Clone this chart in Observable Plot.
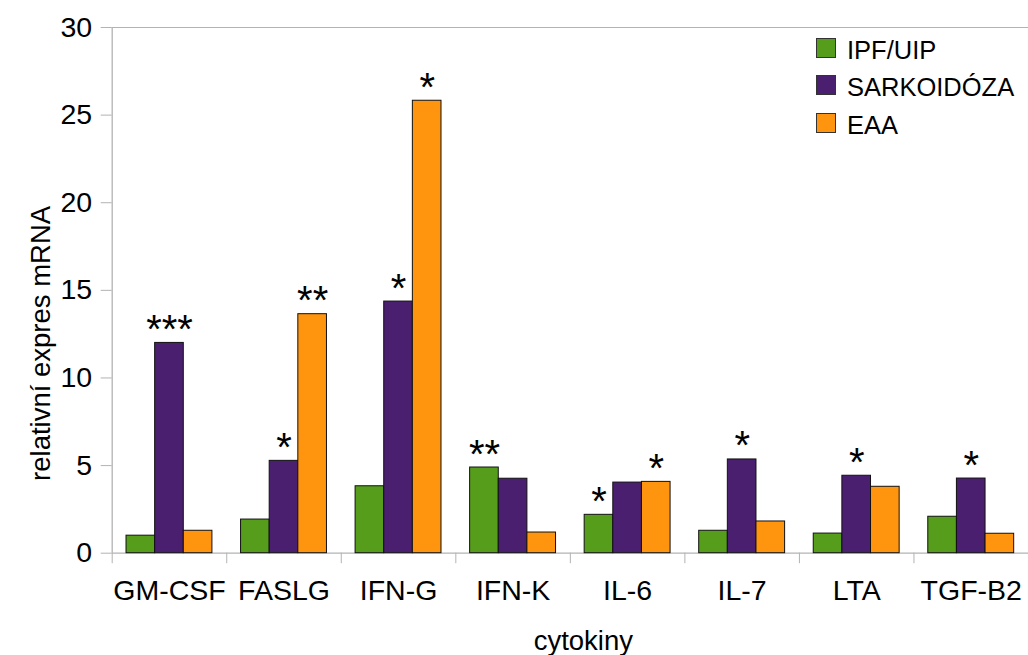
<!DOCTYPE html>
<html><head><meta charset="utf-8">
<script src="https://cdn.jsdelivr.net/npm/d3@7"></script>
<script src="https://cdn.jsdelivr.net/npm/@observablehq/plot@0.6"></script>
<style>
body{margin:0;background:#fff;font-family:"Liberation Sans",Arial,sans-serif;}
#wrap{position:relative;width:1028px;height:655px;overflow:hidden;}
#legend{position:absolute;left:816px;top:32px;}
.row{display:flex;align-items:center;height:37.3px;font-size:25.5px;color:#000;}
.sw{width:18px;height:18px;border:1px solid #333;margin-right:11px;margin-top:-5px;}
</style></head><body><div id="wrap"></div>
<script>
const categories = ["GM-CSF","FASLG","IFN-G","IFN-K","IL-6","IL-7","LTA","TGF-B2"];
const series = ["IPF/UIP","SARKOIDÓZA","EAA"];
const colors = ["#579d1c","#4b1f6f","#ff950e"];
const ipfValues  = [1.0, 1.92, 3.82, 4.89, 2.19, 1.28, 1.12, 2.08];
const sarkValues = [12.0, 5.27, 14.36, 4.25, 4.03, 5.35, 4.42, 4.26];
const eaaValues  = [1.28, 13.64, 25.82, 1.18, 4.07, 1.81, 3.79, 1.11];
const ipfStars  = ["", "", "", "**", "*", "", "", ""];
const sarkStars = ["***", "*", "*", "", "", "*", "*", "*"];
const eaaStars  = ["", "**", "*", "", "*", "", "", ""];
const yTicks = [0, 5, 10, 15, 20, 25, 30];
const xTitle = "cytokiny";
const yTitle = "relativní expres mRNA";

const valueSets = [ipfValues, sarkValues, eaaValues];
const starSets = [ipfStars, sarkStars, eaaStars];
const groupPad = 0.125, barW = 0.25;
const rows = [];
categories.forEach((c, i) => {
  series.forEach((s, j) => {
    const x1 = i + groupPad + j * barW;
    rows.push({cat: c, series: s, value: valueSets[j][i], star: starSets[j][i], x1, x2: x1 + barW});
  });
});

const gray = "#b3b3b3";
const chart = Plot.plot({
  width: 1028,
  height: 655,
  marginLeft: 111.7,
  marginRight: 0,
  marginTop: 27,
  marginBottom: 102.3,
  style: {fontFamily: "'Liberation Sans', Arial, sans-serif", background: "#fff", color: "#000"},
  x: {domain: [0, categories.length]},
  y: {domain: [0, 30]},
  color: {domain: series, range: colors},
  marks: [
    Plot.ruleY([30], {stroke: gray, strokeWidth: 1}),
    Plot.ruleY([0], {stroke: gray, strokeWidth: 1.3}),
    Plot.ruleX([0], {stroke: gray, strokeWidth: 1.3}),
    Plot.axisY({ticks: yTicks, tickSize: 11, tickPadding: 9, fontSize: 28.5, stroke: gray, fill: "#000", label: null}),
    Plot.axisX({ticks: d3.range(categories.length + 1), tickSize: 10.5, stroke: gray, tickFormat: () => "", label: null}),
    Plot.axisX({ticks: categories.map((c, i) => i + 0.5), tickSize: 0, tickPadding: 27, fontSize: 28.5, fill: "#000",
      tickFormat: v => categories[Math.floor(v)], label: null}),
    Plot.rectY(rows, {x1: "x1", x2: "x2", y1: 0, y2: "value", fill: "series", stroke: "#111", strokeWidth: 1}),
    Plot.text(rows.filter(d => d.star), {x: d => (d.x1 + d.x2) / 2, y: "value", text: "star", fontSize: 40, lineAnchor: "bottom", dy: 0, fill: "#000"}),
    Plot.text([xTitle], {frameAnchor: "bottom", textAnchor: "middle", dx: 13, dy: 97, lineAnchor: "bottom", fontSize: 27.5, fill: "#000"}),
    Plot.text([yTitle], {frameAnchor: "left", textAnchor: "middle", rotate: -90, dx: -70.7, dy: 53, lineAnchor: "middle", fontSize: 27.5, fill: "#000"})
  ]
});
const wrap = document.getElementById("wrap");
wrap.appendChild(chart);
const legend = document.createElement("div");
legend.id = "legend";
series.forEach((s, j) => {
  const row = document.createElement("div");
  row.className = "row";
  const sw = document.createElement("div");
  sw.className = "sw";
  sw.style.background = colors[j];
  const t = document.createElement("span");
  t.textContent = s;
  row.appendChild(sw); row.appendChild(t);
  legend.appendChild(row);
});
wrap.appendChild(legend);
</script></body></html>
